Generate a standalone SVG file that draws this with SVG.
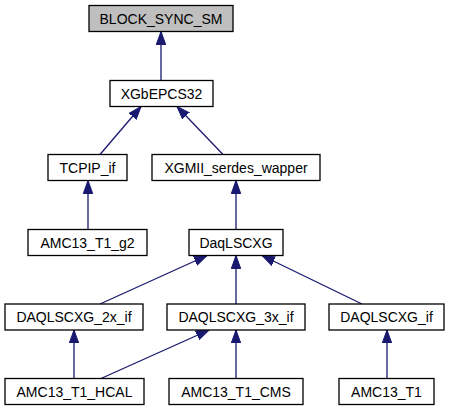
<svg xmlns="http://www.w3.org/2000/svg" width="449" height="411" viewBox="0 0 449 411">
<style>
.box{fill:#ffffff;stroke:#000000;stroke-width:1.3}
.root{fill:#bfbfbf}
.lbl{font-family:"Liberation Sans",Arial,sans-serif;font-size:14px;fill:#000000;text-anchor:middle}
.edge{fill:none;stroke:#191970;stroke-width:1.3}
</style>
<defs>
<marker id="arr" markerUnits="userSpaceOnUse" markerWidth="14" markerHeight="12" refX="13" refY="6" orient="auto" viewBox="0 0 14 12">
<path d="M0,1.3 L13,6 L0,10.7 Z" fill="#191970" stroke="#191970" stroke-width="1"/>
</marker>
</defs>
<rect width="449" height="411" fill="#ffffff"/>
<g id="connectors">
<path class="edge" marker-end="url(#arr)" d="M161,80.5 L161,31.5"/>
<path class="edge" marker-end="url(#arr)" d="M100,154.5 L141,106.5"/>
<path class="edge" marker-end="url(#arr)" d="M223,154.5 L177,106.5"/>
<path class="edge" marker-end="url(#arr)" d="M88,229.5 L88,180.5"/>
<path class="edge" marker-end="url(#arr)" d="M236,229.5 L236,180.5"/>
<path class="edge" marker-end="url(#arr)" d="M100,304 L207,255.5"/>
<path class="edge" marker-end="url(#arr)" d="M236,304 L236,255.5"/>
<path class="edge" marker-end="url(#arr)" d="M362,304 L262,255.5"/>
<path class="edge" marker-end="url(#arr)" d="M74,378.5 L74,330"/>
<path class="edge" marker-end="url(#arr)" d="M101,378.5 L209,330"/>
<path class="edge" marker-end="url(#arr)" d="M236,378.5 L236,330"/>
<path class="edge" marker-end="url(#arr)" d="M387,378.5 L387,330"/>
</g>
<g id="n_BLOCK_SYNC_SM"><rect class="box root" x="89" y="5.5" width="144" height="26"/><text class="lbl" x="161" y="23.5">BLOCK_SYNC_SM</text></g>
<g id="n_XGbEPCS32"><rect class="box" x="110" y="80.5" width="103" height="26"/><text class="lbl" x="161.5" y="98.5">XGbEPCS32</text></g>
<g id="n_TCPIP_if"><rect class="box" x="48" y="154.5" width="79" height="26"/><text class="lbl" x="87.5" y="172.5">TCPIP_if</text></g>
<g id="n_XGMII_serdes_wapper"><rect class="box" x="152" y="154.5" width="168" height="26"/><text class="lbl" x="236" y="172.5">XGMII_serdes_wapper</text></g>
<g id="n_AMC13_T1_g2"><rect class="box" x="28" y="229.5" width="119" height="26"/><text class="lbl" x="87.5" y="247.5">AMC13_T1_g2</text></g>
<g id="n_DaqLSCXG"><rect class="box" x="189" y="229.5" width="94" height="26"/><text class="lbl" x="236" y="247.5">DaqLSCXG</text></g>
<g id="n_DAQLSCXG_2x_if"><rect class="box" x="5" y="304" width="138" height="26"/><text class="lbl" x="74" y="322">DAQLSCXG_2x_if</text></g>
<g id="n_DAQLSCXG_3x_if"><rect class="box" x="167" y="304" width="138" height="26"/><text class="lbl" x="236" y="322">DAQLSCXG_3x_if</text></g>
<g id="n_DAQLSCXG_if"><rect class="box" x="329" y="304" width="115" height="26"/><text class="lbl" x="386.5" y="322">DAQLSCXG_if</text></g>
<g id="n_AMC13_T1_HCAL"><rect class="box" x="5" y="378.5" width="139" height="26"/><text class="lbl" x="74.5" y="396.5">AMC13_T1_HCAL</text></g>
<g id="n_AMC13_T1_CMS"><rect class="box" x="169" y="378.5" width="134" height="26"/><text class="lbl" x="236" y="396.5">AMC13_T1_CMS</text></g>
<g id="n_AMC13_T1"><rect class="box" x="339" y="378.5" width="95" height="26"/><text class="lbl" x="386.5" y="396.5">AMC13_T1</text></g>
</svg>
